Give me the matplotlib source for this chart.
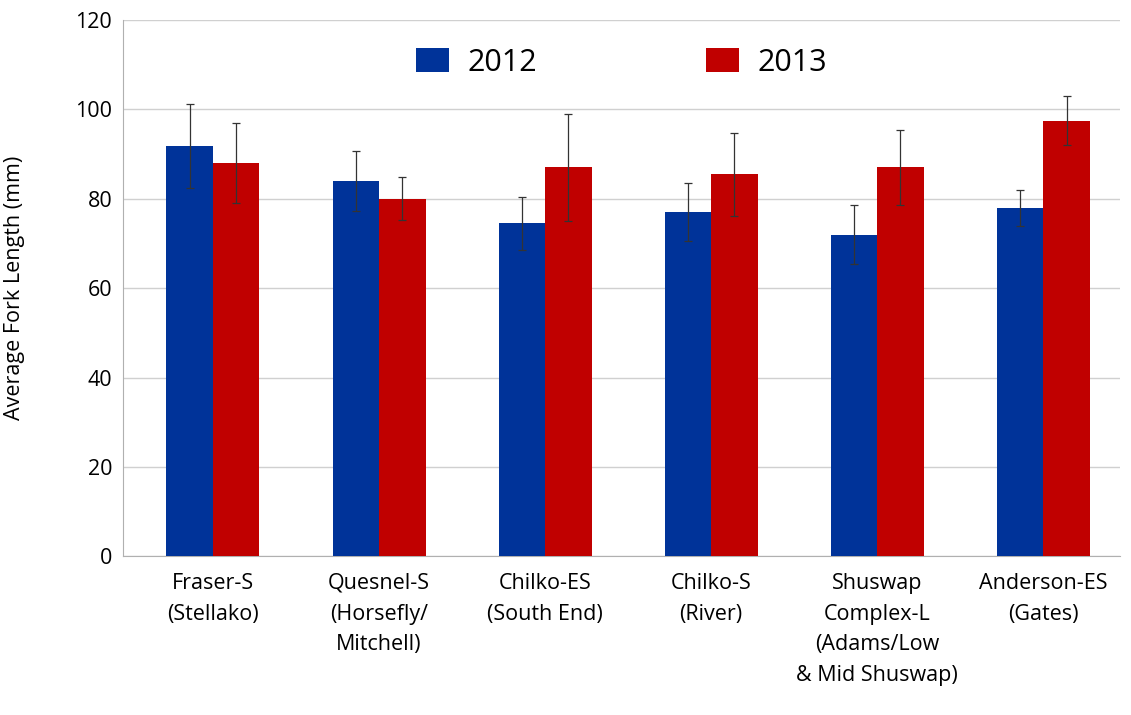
import matplotlib.pyplot as plt
import numpy as np

categories = ['Fraser-S\n(Stellako)', 'Quesnel-S\n(Horsefly/\nMitchell)', 'Chilko-ES\n(South End)',
              'Chilko-S\n(River)', 'Shuswap\nComplex-L\n(Adams/Low\n& Mid Shuswap)', 'Anderson-ES\n(Gates)']
mean_2012 = [91.8, 84, 74.5, 77, 72, 78]
err_2012 = [9.5, 6.8, 6, 6.5, 6.5, 4]
mean_2013 = [88, 80, 87, 85.5, 87, 97.5]
err_2013 = [9, 4.8, 12, 9.3, 8.5, 5.5]

plt.rcParams['font.family'] = ['Open Sans', 'DejaVu Sans']
fig = plt.figure(figsize=(11.31, 7.15), dpi=100)
ax = fig.add_axes([0.109, 0.222, 0.881, 0.75])

x = np.arange(len(categories))
w = 0.28
ax.bar(x - w/2, mean_2012, w, yerr=err_2012, color='#003399', label='2012',
       error_kw=dict(ecolor='#333333', elinewidth=0.9, capsize=3, capthick=0.9), zorder=3)
ax.bar(x + w/2, mean_2013, w, yerr=err_2013, color='#C00000', label='2013',
       error_kw=dict(ecolor='#333333', elinewidth=0.9, capsize=3, capthick=0.9), zorder=3)

ax.set_xlim(-0.54, 5.46)
ax.set_ylim(0, 120)
ax.set_yticks(range(0, 121, 20))
ax.yaxis.grid(True, color='#d0d0d0', linewidth=1, zorder=0)
ax.set_xticks(x)
ax.set_xticklabels(categories, fontsize=15.5, va='top', linespacing=1.6)
ax.tick_params(axis='y', labelsize=15.5, length=0, pad=8)
ax.tick_params(axis='x', length=0, pad=12)
ax.set_ylabel('Average Fork Length (mm)', fontsize=15.5, labelpad=36)
for s in ['top', 'right']:
    ax.spines[s].set_visible(False)
ax.spines['left'].set_color('#b0b0b0')
ax.spines['bottom'].set_color('#b0b0b0')

ax.legend(loc='upper center', ncol=2, fontsize=22, frameon=False, handlelength=1.1,
          handleheight=0.85, handletextpad=0.6, columnspacing=5.5, bbox_to_anchor=(0.5, 1.0))

fig.savefig('out.png', dpi=100)
